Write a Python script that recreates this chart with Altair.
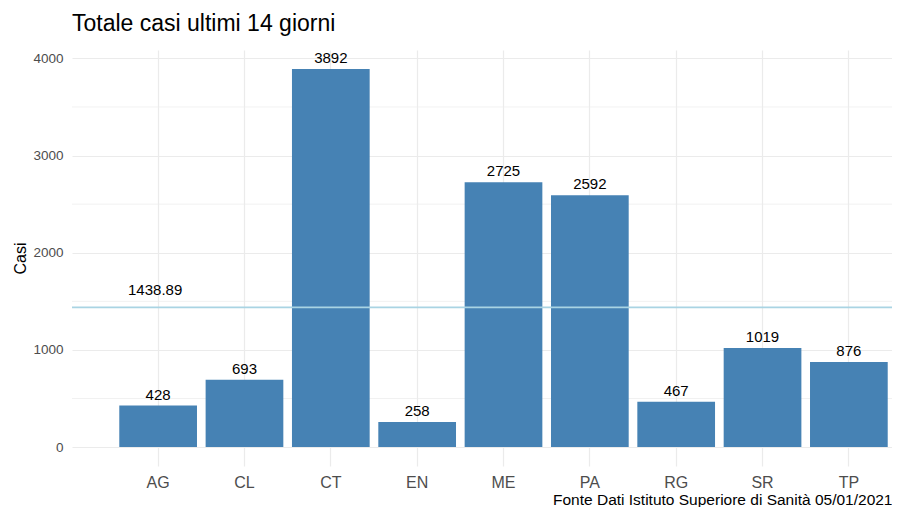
import altair as alt
import pandas as pd

province = ["AG", "CL", "CT", "EN", "ME", "PA", "RG", "SR", "TP"]
casi = [428, 693, 3892, 258, 2725, 2592, 467, 1019, 876]
media = 1438.89
media_label = "1438.89"
y_major = [0, 1000, 2000, 3000, 4000]
y_minor = [500, 1500, 2500, 3500]
titolo = "Totale casi ultimi 14 giorni"
fonte = "Fonte Dati Istituto Superiore di Sanità 05/01/2021"
y_titolo = "Casi"

df = pd.DataFrame({"prov": province, "casi": casi})
df_minor = pd.DataFrame({"v": y_minor})
df_media = pd.DataFrame({"prov": [province[0]], "v": [media], "lbl": [media_label]})

FONT = "Liberation Sans"
W, H = 820, 416

xscale = alt.Scale(domain=province, paddingInner=0.1, paddingOuter=0.2986, align=0.917)
yscale = alt.Scale(domain=[-194.6, 4086.6], nice=False, zero=False)

xaxis = alt.Axis(
    title=fonte, titleAnchor="end", titleFontSize=15.5, titleFont=FONT,
    titleFontWeight="normal", titleColor="black", titlePadding=2,
    labelAngle=0, labelFontSize=16, labelFont=FONT, labelColor="#4D4D4D",
    labelPadding=8, ticks=False, domain=False, grid=True, bandPosition=0.5,
    tickExtra=False, gridColor="#EBEBEB", gridWidth=1.2,
)
yaxis = alt.Axis(
    values=y_major, format="d", title=y_titolo, titleFontSize=16, titleFont=FONT,
    titleFontWeight="normal", titleColor="black", titlePadding=4,
    labelFontSize=13.5, labelFont=FONT, labelColor="#4D4D4D", labelPadding=9,
    ticks=False, domain=False, grid=True, gridColor="#EBEBEB", gridWidth=1.2,
)

X = alt.X("prov:N", scale=xscale, axis=xaxis, sort=province)

minor = alt.Chart(df_minor).mark_rule(color="#EBEBEB", strokeWidth=0.7).encode(
    y=alt.Y("v:Q", scale=yscale, axis=yaxis)
)

bars = alt.Chart(df).mark_bar(color="#4682B4").encode(
    x=X,
    y=alt.Y("casi:Q", scale=yscale, axis=yaxis),
    y2=alt.datum(0),
)

labels = alt.Chart(df).mark_text(
    baseline="bottom", dy=-3, fontSize=15, font=FONT, color="black"
).encode(
    x=X,
    y=alt.Y("casi:Q", scale=yscale, axis=yaxis),
    text="casi:Q",
)

hline = alt.Chart(df_media).mark_rule(color="#A9D4E3", strokeWidth=1.8).encode(
    y=alt.Y("v:Q", scale=yscale, axis=yaxis)
)

htext = alt.Chart(df_media).mark_text(
    baseline="alphabetic", dy=-12, dx=-3, fontSize=15, font=FONT, color="black"
).encode(
    x=X,
    y=alt.Y("v:Q", scale=yscale, axis=yaxis),
    text="lbl:N",
)

chart = alt.layer(minor, bars, hline, htext, labels).properties(
    width=W, height=H,
    background="white",
    title=alt.TitleParams(
        titolo, anchor="start", frame="group", fontSize=23, font=FONT,
        fontWeight="normal", color="black", baseline="alphabetic", offset=-4,
    ),
    autosize=alt.AutoSizeParams(type="none"),
    padding={"left": 64, "top": 42, "right": 0, "bottom": 41},
).configure_view(strokeWidth=0, stroke="transparent")

chart.save("out.html", embed_options={"renderer": "svg", "actions": False})
